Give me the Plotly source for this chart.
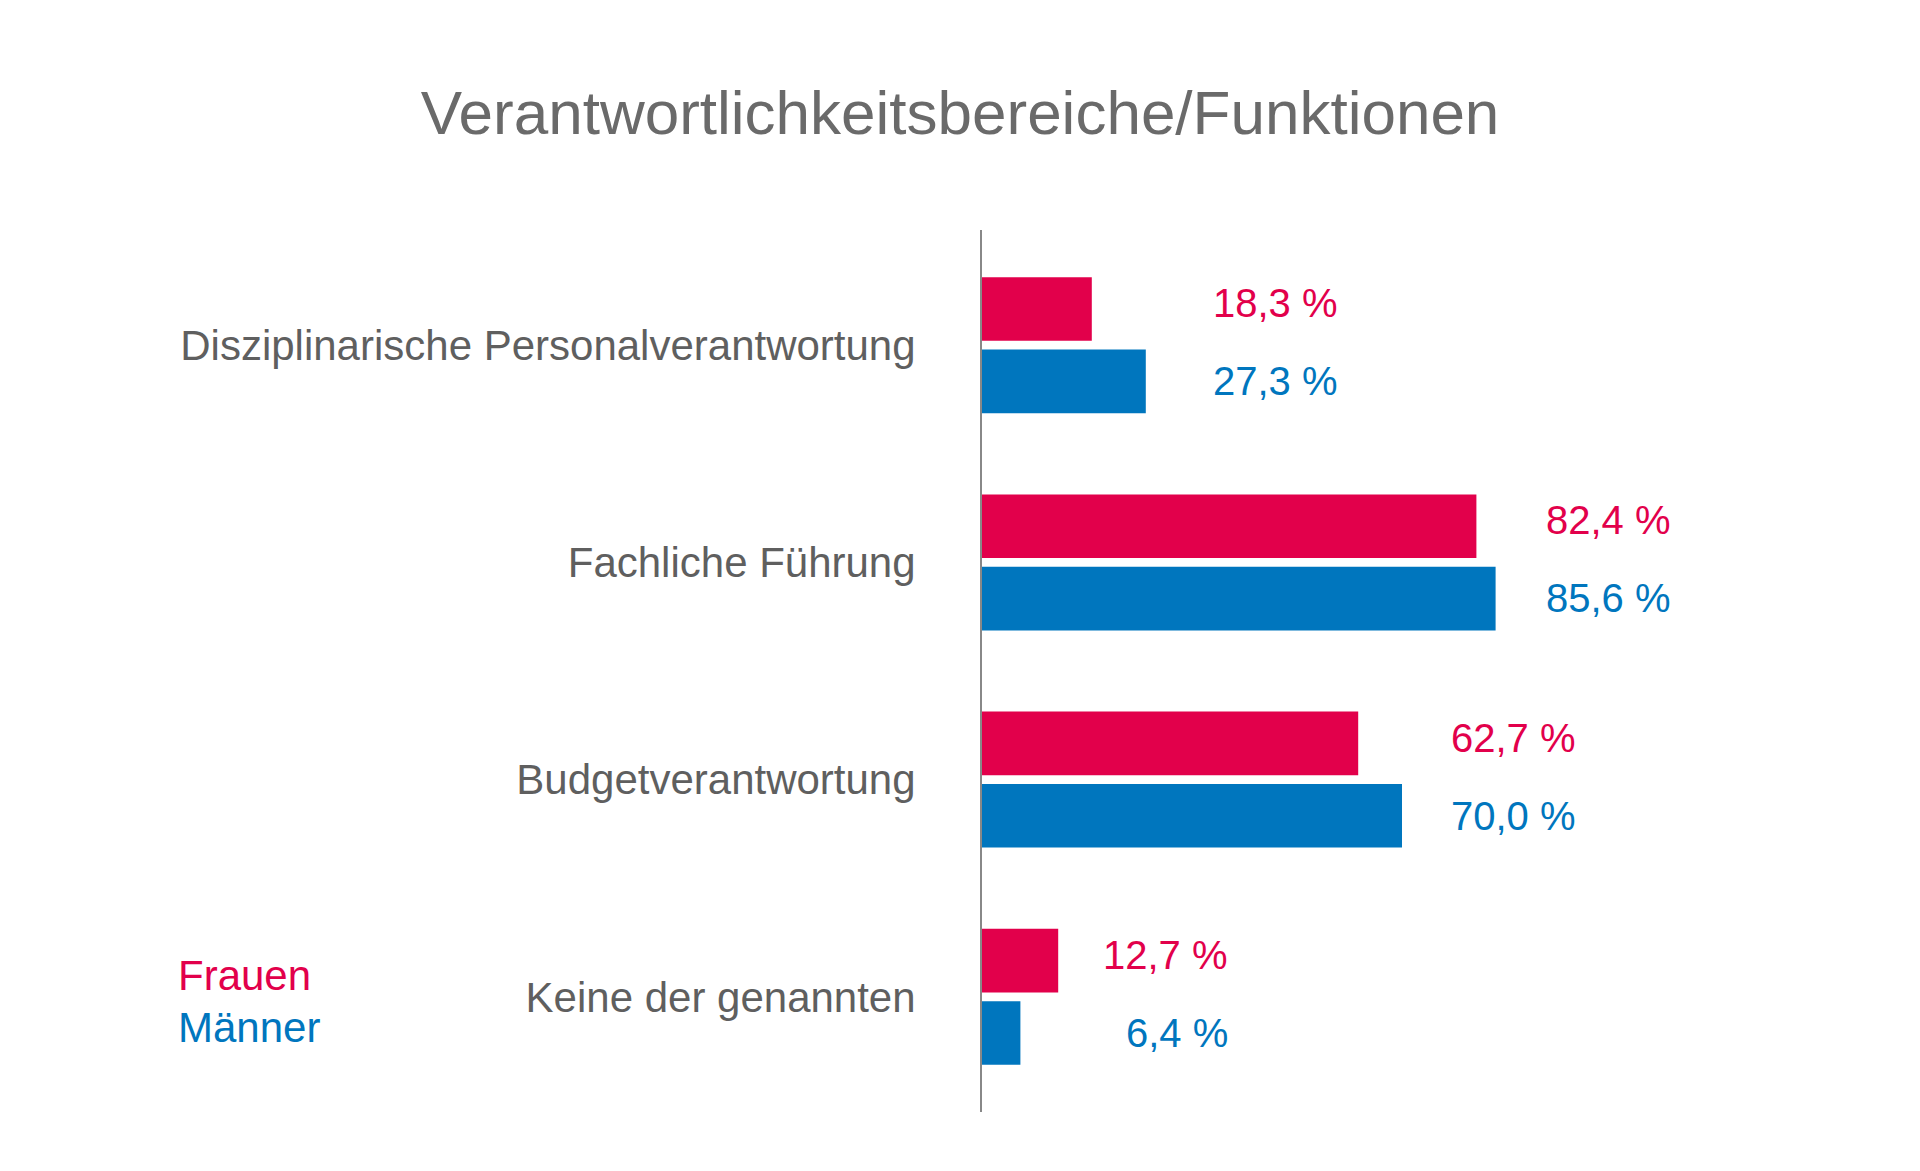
import plotly.graph_objects as go

categories = ["Disziplinarische Personalverantwortung", "Fachliche Führung",
              "Budgetverantwortung", "Keine der genannten"]
frauen = [18.3, 82.4, 62.7, 12.7]
maenner = [27.3, 85.6, 70.0, 6.4]
series_names = ["Frauen", "Männer"]
title_text = "Verantwortlichkeitsbereiche/Funktionen"

# layout: horizontal gap (in axis units) between the longer bar and the right edge of its labels
label_gaps = [32.4, 29.6, 29.3, 28.6]

RED = "#E2004B"
BLUE = "#0076BE"
GRAY = "#5f5f5f"
FONT = "Liberation Sans, Arial, sans-serif"

def fmt(v):
    return f"{v:.1f}".replace(".", ",") + " %"

fig = go.Figure()
fig.add_trace(go.Bar(y=categories, x=frauen, orientation="h", name=series_names[0],
                     marker=dict(color=RED, line=dict(width=0))))
fig.add_trace(go.Bar(y=categories, x=maenner, orientation="h", name=series_names[1],
                     marker=dict(color=BLUE, line=dict(width=0))))

annotations = []
for c, f, m, g in zip(categories, frauen, maenner, label_gaps):
    xr = max(f, m) + g
    annotations.append(dict(x=xr, y=c, xref="x", yref="y", text=fmt(f), showarrow=False,
                            xanchor="right", yanchor="middle", yshift=42,
                            font=dict(family=FONT, size=40, color=RED)))
    annotations.append(dict(x=xr, y=c, xref="x", yref="y", text=fmt(m), showarrow=False,
                            xanchor="right", yanchor="middle", yshift=-36,
                            font=dict(family=FONT, size=40, color=BLUE)))

annotations.append(dict(x=176, y=975, xref="paper", yref="paper", text=series_names[0],
                        showarrow=False, xanchor="left", yanchor="middle",
                        font=dict(family=FONT, size=42, color=RED)))
annotations.append(dict(x=176, y=1027, xref="paper", yref="paper", text=series_names[1],
                        showarrow=False, xanchor="left", yanchor="middle",
                        font=dict(family=FONT, size=42, color=BLUE)))

# convert legend pixel positions to paper coords
W, H = 1920, 1171
L, R, T, B = 982, 217, 230, 59
pw, ph = W - L - R, H - T - B
for a in annotations[-2:]:
    a["x"] = (a["x"] - L) / pw
    a["y"] = (H - B - a["y"]) / ph

fig.update_layout(
    width=W, height=H,
    margin=dict(l=L, r=R, t=T, b=B, pad=0),
    paper_bgcolor="white", plot_bgcolor="white",
    barmode="group", bargap=0.334, bargroupgap=0.12,
    showlegend=False,
    title=dict(text=title_text, x=0.5, xref="container", xanchor="center",
               y=1 - 112 / H, yref="container", yanchor="middle",
               font=dict(family=FONT, size=62, color="#6a6a6a")),
    xaxis=dict(range=[0, pw / 6.0], visible=False, fixedrange=True),
    yaxis=dict(range=[3.53, -0.53], showline=True, linecolor="#888888", linewidth=2,
               showgrid=False, zeroline=False, ticks="", ticklabelstandoff=56,
               tickfont=dict(family=FONT, size=42, color=GRAY)),
    annotations=annotations,
)

fig.write_html("out.html")
